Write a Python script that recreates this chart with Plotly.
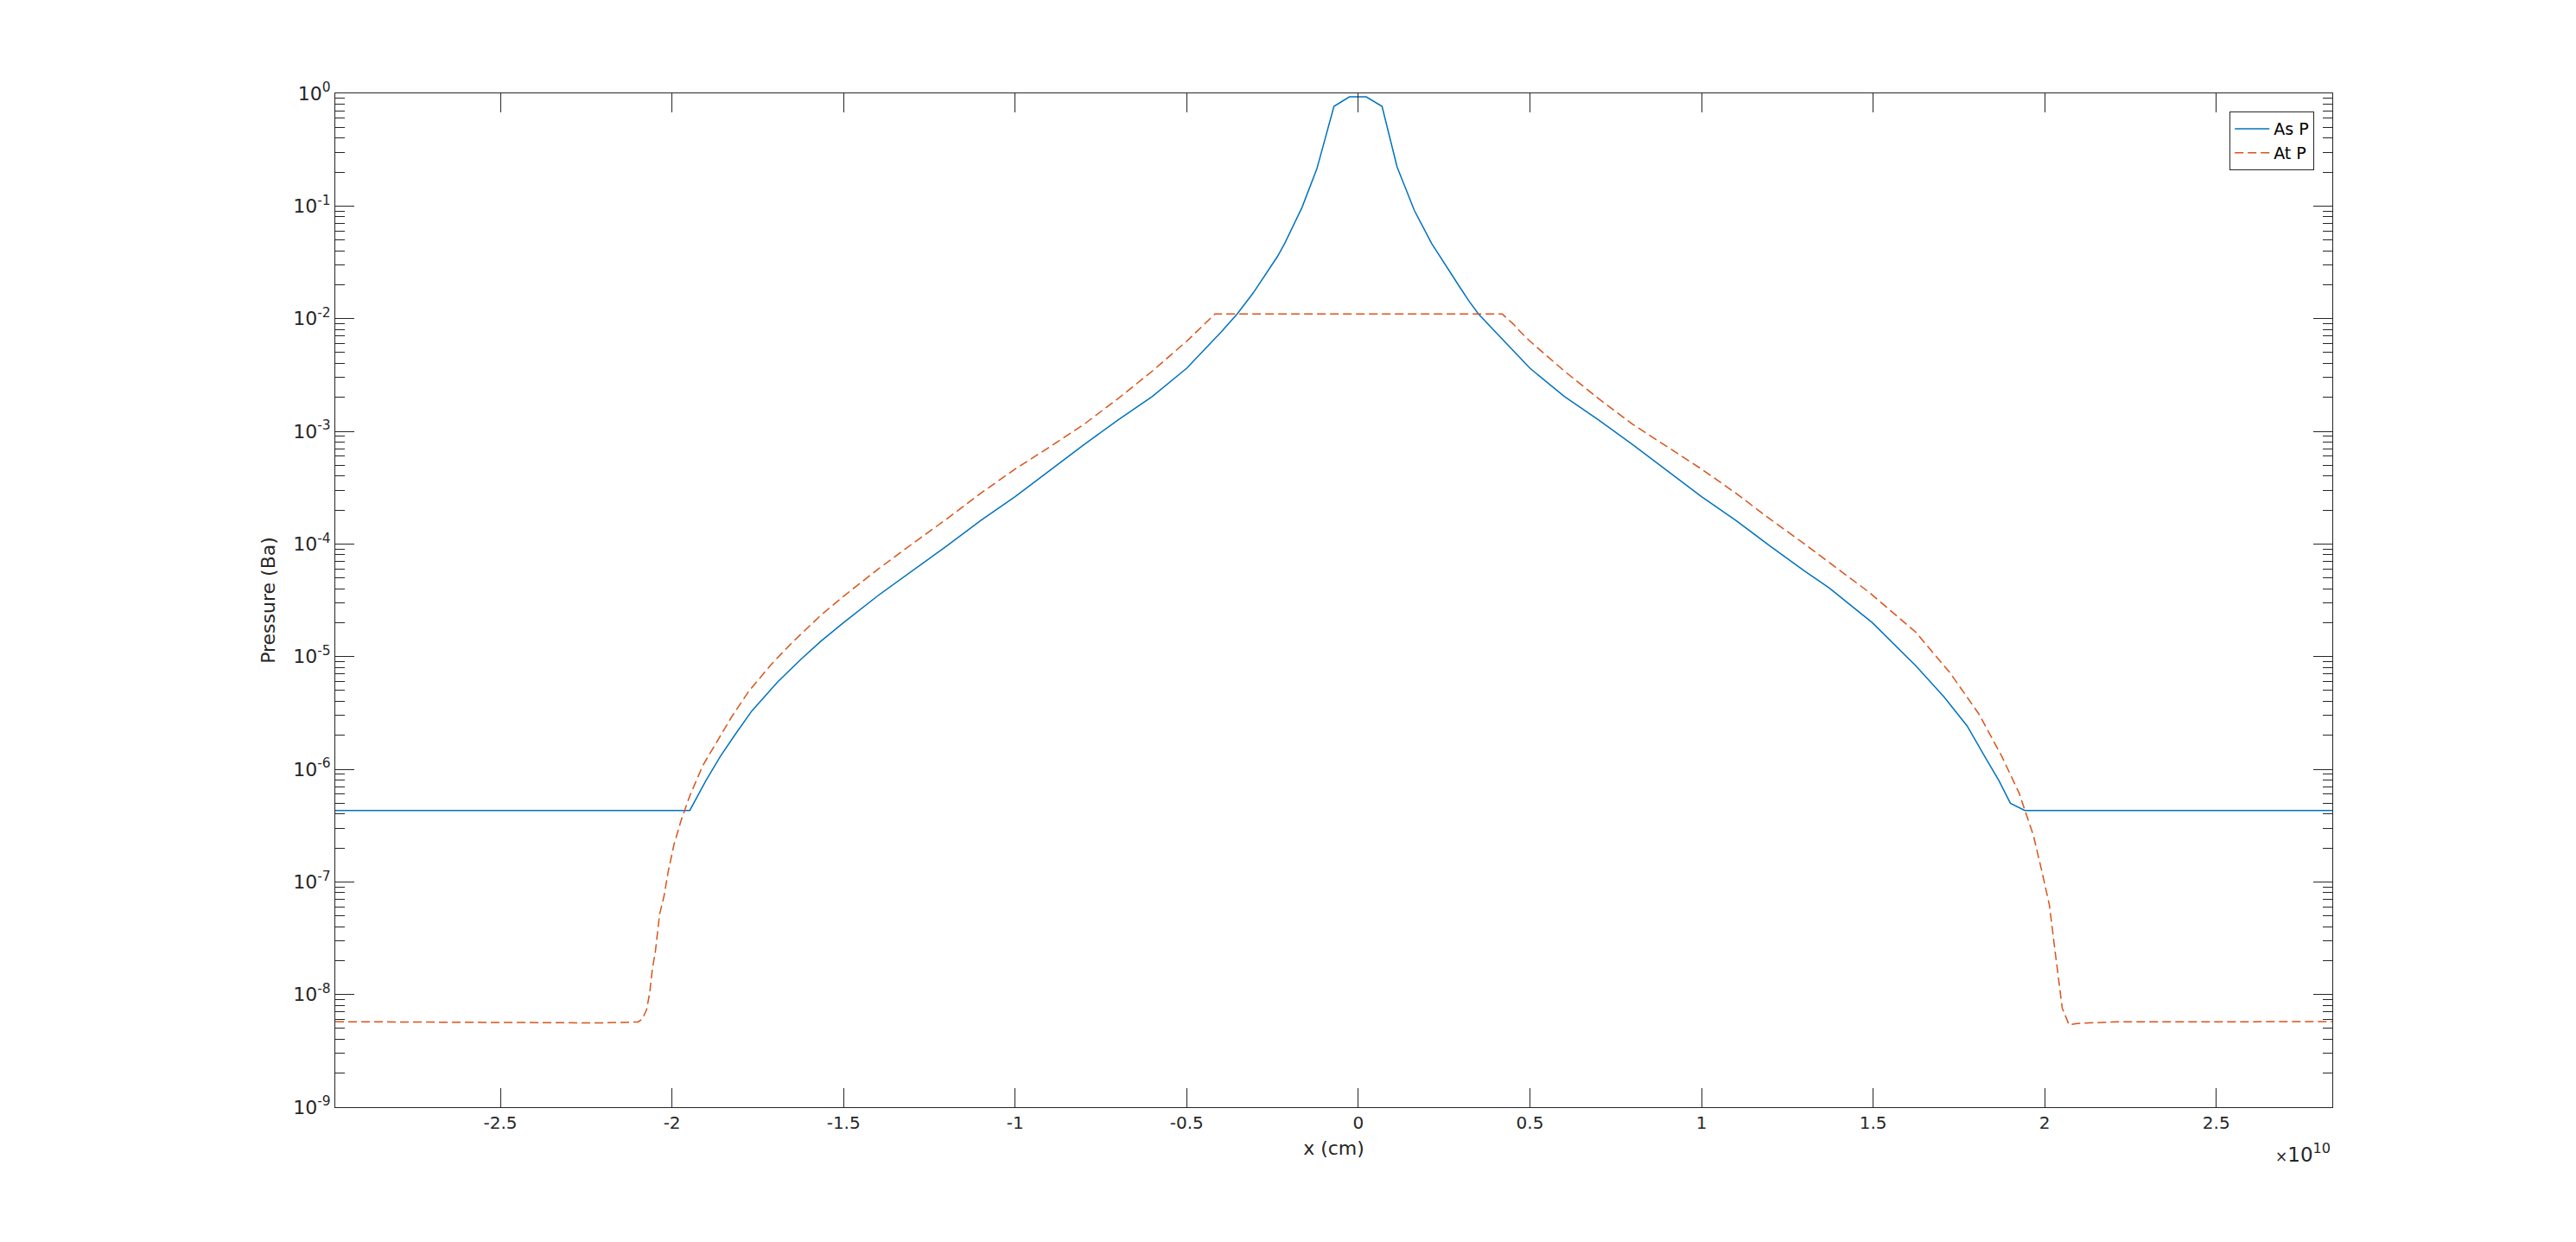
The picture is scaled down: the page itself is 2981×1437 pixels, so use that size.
import plotly.graph_objects as go

# x in units of 1e10 cm
as_x = [-2.981, -1.948, -1.901, -1.859, -1.817, -1.767, -1.692, -1.624, -1.566, -1.5,
        -1.4, -1.3, -1.2, -1.1, -1.0, -0.9, -0.8, -0.7, -0.6, -0.5,
        -0.45, -0.4, -0.353, -0.307, -0.2356, -0.2145, -0.164, -0.1206, -0.071, -0.026,
        0.023, 0.069, 0.113, 0.163, 0.2135, 0.2387, 0.2973, 0.3225, 0.350, 0.4,
        0.45, 0.5, 0.6, 0.7, 0.8, 0.9, 1.0, 1.1, 1.2, 1.3,
        1.3716, 1.4975, 1.623, 1.707, 1.774, 1.825, 1.8665, 1.900, 1.942, 2.838]
as_p = [4.31e-7, 4.31e-7, 7.93e-7, 1.30e-6, 2.01e-6, 3.30e-6, 5.96e-6, 9.48e-6, 1.37e-5, 2.00e-5,
        3.47e-5, 5.75e-5, 9.55e-5, 1.62e-4, 2.63e-4, 4.47e-4, 7.59e-4, 1.26e-3, 2.04e-3, 3.63e-3,
        5.25e-3, 7.59e-3, 1.10e-2, 1.68e-2, 3.56e-2, 4.65e-2, 9.73e-2, 0.215, 0.766, 0.931,
        0.931, 0.766, 0.222, 9.16e-2, 4.65e-2, 3.56e-2, 1.87e-2, 1.43e-2, 1.10e-2, 7.59e-3,
        5.25e-3, 3.63e-3, 2.04e-3, 1.26e-3, 7.59e-4, 4.47e-4, 2.63e-4, 1.62e-4, 9.55e-5, 5.75e-5,
        4.07e-5, 2.00e-5, 8.36e-6, 4.37e-6, 2.42e-6, 1.30e-6, 7.93e-7, 4.98e-7, 4.31e-7, 4.31e-7]

at_x = [-2.981, -2.213, -2.099, -2.086, -2.074, -2.065, -2.057, -2.048, -2.036, -2.023,
        -2.011, -1.994, -1.973, -1.948, -1.910, -1.868, -1.826, -1.776, -1.709, -1.650,
        -1.566, -1.5, -1.4, -1.3, -1.2, -1.1, -1.0, -0.9, -0.8, -0.7,
        -0.6, -0.5, -0.475, -0.4496, -0.433, -0.4177, 0.419, 0.435, 0.452, 0.475,
        0.5, 0.6, 0.7, 0.8, 0.9, 1.0, 1.1, 1.2, 1.3, 1.4,
        1.489, 1.623, 1.724, 1.808, 1.875, 1.925, 1.967, 1.992, 2.0136, 2.030,
        2.043, 2.051, 2.071, 2.093, 2.21, 2.838]
at_p = [5.74e-9, 5.60e-9, 5.70e-9, 6.08e-9, 7.33e-9, 1.03e-8, 1.69e-8, 2.45e-8, 5.16e-8, 7.50e-8,
        1.23e-7, 2.15e-7, 3.54e-7, 5.81e-7, 1.08e-6, 1.77e-6, 2.92e-6, 4.93e-6, 8.63e-6, 1.33e-5,
        2.33e-5, 3.43e-5, 5.96e-5, 1.00e-4, 1.66e-4, 2.82e-4, 4.62e-4, 7.24e-4, 1.15e-3, 1.95e-3,
        3.43e-3, 6.31e-3, 7.48e-3, 8.93e-3, 1.00e-2, 1.10e-2, 1.10e-2, 1.00e-2, 8.93e-3, 7.48e-3,
        6.31e-3, 3.43e-3, 1.95e-3, 1.15e-3, 7.24e-4, 4.62e-4, 2.82e-4, 1.66e-4, 1.00e-4, 5.96e-5,
        3.71e-5, 1.66e-5, 7.18e-6, 3.10e-6, 1.30e-6, 6.18e-7, 2.59e-7, 1.23e-7, 6.22e-8, 2.45e-8,
        1.17e-8, 7.57e-9, 5.37e-9, 5.53e-9, 5.73e-9, 5.74e-9]

x_ticks = [-2.5, -2, -1.5, -1, -0.5, 0, 0.5, 1, 1.5, 2, 2.5]
x_tick_text = ["-2.5", "-2", "-1.5", "-1", "-0.5", "0", "0.5", "1", "1.5", "2", "2.5"]
y_exps = [-9, -8, -7, -6, -5, -4, -3, -2, -1, 0]

SCALE = 1e10
AX = "#262626"
FONT = "DejaVu Sans"

fig = go.Figure()
fig.add_trace(go.Scatter(x=[v * SCALE for v in as_x], y=as_p, mode="lines", name="As P",
                         line=dict(color="#0072BD", width=1.5)))
fig.add_trace(go.Scatter(x=[v * SCALE for v in at_x], y=at_p, mode="lines", name="At P",
                         line=dict(color="#D95319", width=1.5, dash="10px,5px")))

fig.update_layout(
    width=2981, height=1437,
    margin=dict(l=380, r=290, t=100, b=164),
    paper_bgcolor="white", plot_bgcolor="white",
    font=dict(family=FONT, size=20, color=AX),
    showlegend=True,
    legend=dict(x=0.991, y=0.982, xanchor="right", yanchor="top",
                bgcolor="white", bordercolor=AX, borderwidth=1,
                font=dict(size=19, color="black"), tracegroupgap=0,
                itemwidth=40),
    xaxis=dict(
        range=[-2.981 * SCALE, 2.838 * SCALE],
        tickmode="array", tickvals=[v * SCALE for v in x_ticks], ticktext=x_tick_text,
        ticks="inside", ticklen=22, tickwidth=1, tickcolor=AX,
        showline=True, linecolor=AX, linewidth=1, mirror="ticks",
        showgrid=False, zeroline=False,
        tickfont=dict(size=20, color=AX),
        title=dict(text="x (cm)", font=dict(size=22, color=AX), standoff=10),
    ),
    yaxis=dict(
        type="log", range=[-9, 0],
        tickmode="array", tickvals=[10.0 ** e for e in y_exps],
        ticktext=["10<sup>%d</sup>" % e for e in y_exps],
        ticks="inside", ticklen=22, tickwidth=1, tickcolor=AX,
        minor=dict(ticks="inside", ticklen=11, tickwidth=1, tickcolor=AX, dtick="D1", showgrid=False),
        showline=True, linecolor=AX, linewidth=1, mirror="ticks",
        showgrid=False, zeroline=False,
        tickfont=dict(size=22, color=AX),
        title=dict(text="Pressure (Ba)", font=dict(size=22, color=AX), standoff=14),
    ),
    annotations=[dict(text="<span style='font-size:17px'>×</span>10<sup>10</sup>",
                      xref="paper", yref="paper", x=1.0, y=-0.045,
                      xanchor="right", yanchor="middle", showarrow=False,
                      font=dict(size=23, color=AX))],
)

fig.write_html("out.html")
